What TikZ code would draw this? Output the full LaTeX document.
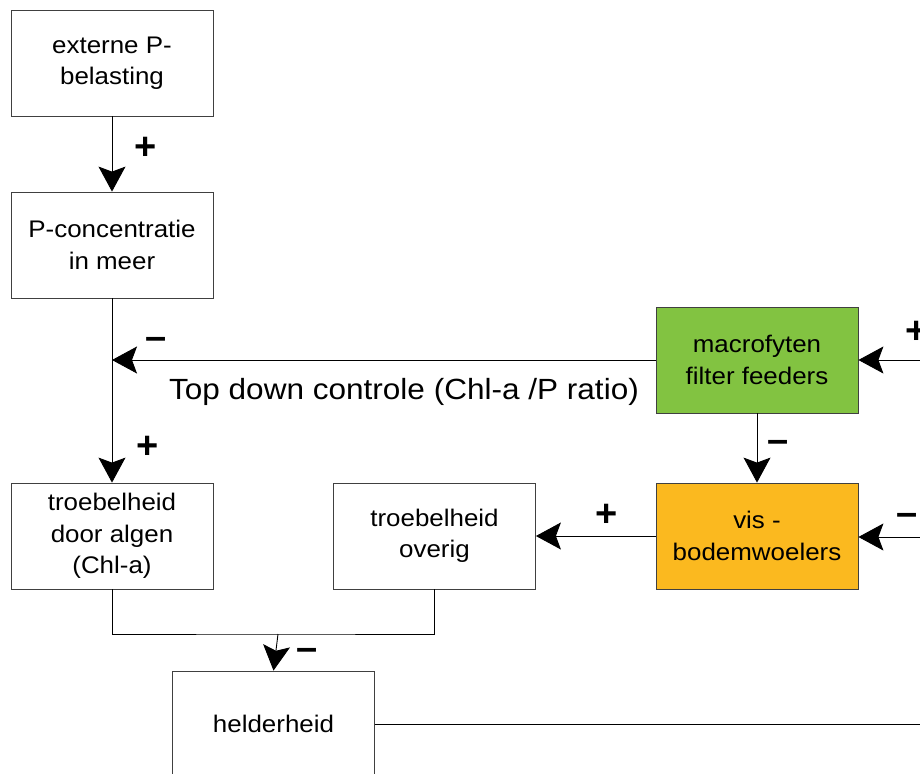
\documentclass[tikz,border=0pt]{standalone}
\usepackage{fontspec}
\setmainfont{Liberation Sans}[FakeStretch=1.08]
\newfontfamily\signfont{Liberation Sans}
\usetikzlibrary{arrows.meta}
\definecolor{macgreen}{HTML}{82C341}
\definecolor{visorange}{HTML}{FBB91F}
\begin{document}
\begin{tikzpicture}[x=1pt,y=-1pt,
  box/.style={draw=black!75, line width=0.8pt, minimum width=202pt, minimum height=106pt,
    inner sep=0pt, align=center, font=\fontsize{24}{31.5}\selectfont},
  conn/.style={line width=0.9pt, -{Stealth[length=25pt,width=27pt,inset=5pt]}},
  wire/.style={line width=0.9pt},
  sign/.style={font=\signfont\fontsize{38}{40}\selectfont\bfseries, inner sep=0pt},
  lbl/.style={font=\fontsize{29.2}{31}\selectfont, inner sep=0pt}]
\useasboundingbox (0,0) rectangle (920,773);
\clip (0,0) rectangle (920,773);
\fill[white] (0,0) rectangle (920,773);
% boxes
\node[box] (ext) at (112,63) {externe P-\\belasting};
\node[box] (pconc) at (112,245) {P-concentratie\\in meer};
\node[box, fill=macgreen] (mac) at (757,360) {macrofyten\\filter feeders};
\node[box] (alg) at (112,536) {troebelheid\\door algen\\(Chl-a)};
\node[box] (ov) at (434.5,536) {troebelheid\\overig};
\node[box, fill=visorange] (vis) at (757,536) {vis -\\bodemwoelers};
\node[box] (held) at (273.5,724) {helderheid};
% coordinates
\coordinate (tdc) at (112,360);
\coordinate (rin1) at (940,360);
\coordinate (rin2) at (940,537);
\coordinate (jn) at (278,634);
\coordinate (rout) at (940,724);
% connectors
\draw[conn] (ext) -- (pconc);
\draw[conn] (pconc) -- (alg);
\draw[conn] (mac) -- (tdc);
\draw[conn] (rin1) -- (mac);
\draw[conn] (mac) -- (vis);
\draw[conn] (vis) -- (ov);
\draw[conn] (rin2) -- (vis.east |- rin2);
\draw[wire] (alg.south) |- (jn) -| (ov.south);
\draw[conn] (jn) -- (held.north);
\draw[wire] (held.east) -- (rout);
% labels
\node[lbl] (tdlabel) at (404,392) {Top down controle (Chl-a /P ratio)};
\node[sign] (s1) at (145.5,148) {+};
\node[sign] (s2) at (148,447) {+};
\node[sign] (s3) at (156,343) {–};
\node[sign] (s4) at (916.5,332) {+};
\node[sign] (s5) at (778.5,446) {–};
\node[sign] (s6) at (607,515.5) {+};
\node[sign] (s7) at (907,519) {–};
\node[sign] (s8) at (307.5,654) {–};
\end{tikzpicture}
\end{document}
